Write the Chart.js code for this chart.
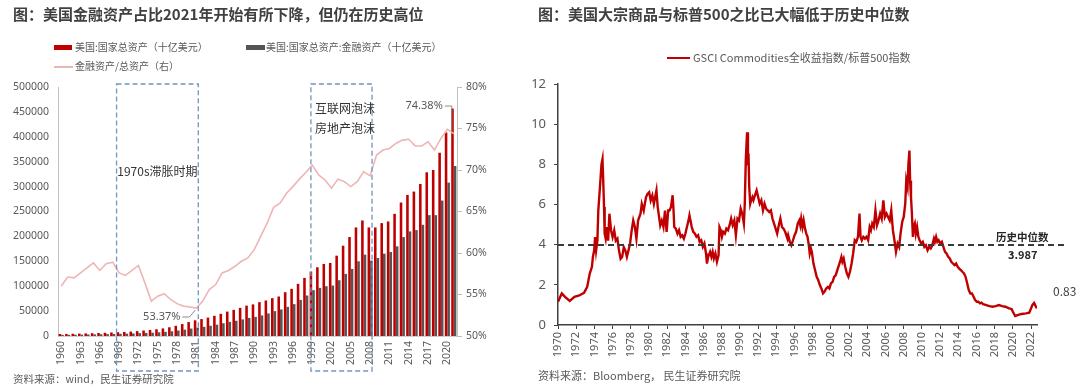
<!DOCTYPE html>
<html><head><meta charset="utf-8">
<script src="https://cdn.jsdelivr.net/npm/chart.js@4.4.1/dist/chart.umd.min.js"></script>
<style>
html,body{margin:0;padding:0;background:#fff;}
body{width:1080px;height:385px;position:relative;overflow:hidden;font-family:"Noto Sans CJK SC","Noto Sans",sans-serif;}
.abs{position:absolute;white-space:nowrap;line-height:1;}
.title{font-weight:bold;font-size:15px;color:#404040;}
.leg{font-size:10px;color:#595959;}
.src{font-size:10.5px;color:#595959;}
canvas{position:absolute;top:0;}
</style></head>
<body>
<canvas id="c1" width="530" height="385" style="left:0;width:530px;height:385px"></canvas>
<canvas id="c2" width="550" height="385" style="left:530px;width:550px;height:385px"></canvas>

<div class="abs title" style="left:13px;top:6px">图：美国金融资产占比2021年开始有所下降，但仍在历史高位</div>
<div class="abs" style="left:54px;top:45px;width:18px;height:5px;background:#C00000"></div>
<div class="abs leg" style="left:75px;top:42px">美国:国家总资产（十亿美元）</div>
<div class="abs" style="left:246px;top:45px;width:19px;height:5px;background:#555555"></div>
<div class="abs leg" style="left:266px;top:42px">美国:国家总资产:金融资产（十亿美元）</div>
<div class="abs" style="left:54px;top:66px;width:19px;height:1.5px;background:#EFB5B5"></div>
<div class="abs leg" style="left:75px;top:61px">金融资产/总资产（右）</div>
<div class="abs src" style="left:13px;top:374px">资料来源：wind，民生证券研究院</div>

<div class="abs title" style="left:538px;top:6px">图：美国大宗商品与标普500之比已大幅低于历史中位数</div>
<div class="abs" style="left:667px;top:57px;width:23px;height:2px;background:#C00000"></div>
<div class="abs" style="left:693px;top:52px;font-size:11px;color:#595959">GSCI Commodities全收益指数/标普500指数</div>
<div class="abs src" style="left:538px;top:370px;font-size:11px">资料来源：Bloomberg， 民生证券研究院</div>
<div class="abs" style="left:996px;top:232px;font-size:10.5px;font-weight:bold;color:#262626">历史中位数</div>
<div class="abs" style="left:1008px;top:249px;font-size:11px;font-weight:bold;color:#262626">3.987</div>
<div class="abs" style="left:1053px;top:285px;font-size:12px;color:#404040">0.83</div>

<script>
// ---------- Left chart data ----------
const yearLabels = ['1960','1961','1962','1963','1964','1965','1966','1967','1968','1969',
 '1970','1971','1972','1973','1974','1975','1976','1977','1978','1979',
 '1980','1981','1982','1983','1984','1985','1986','1987','1988','1989',
 '1990','1991','1992','1993','1994','1995','1996','1997','1998','1999',
 '2000','2001','2002','2003','2004','2005','2006','2007','2008','2009',
 '2010','2011','2012','2013','2014','2015','2016','2017','2018','2019',
 '2020','2021'];
const totalAssets = [4000,4200,4500,4800,5200,5600,6000,6500,7100,7700,
 8200,8900,9800,11000,12200,13500,15200,17500,20500,24000,
 28000,31500,34000,37000,40500,44500,49000,52500,56500,61000,
 63500,68000,71300,76000,79300,88000,94700,104700,116700,129300,
 138000,144700,146700,161300,181300,198700,218000,232000,218000,218000,
 226700,230000,245300,268000,283300,290000,305300,328700,333300,368000,
 408700,456700];
const financialAssets = [2240,2400,2570,2760,3030,3290,3470,3820,4180,4440,
 4700,5150,5730,6200,6610,7400,8380,9520,11050,12860,
 14980,16810,18430,20570,22760,25630,28370,30660,33340,36230,
 38350,41330,45330,50000,53330,58500,64000,72500,81330,92000,
 96670,100000,101330,112000,124670,134670,150000,163330,151330,156670,
 165330,168670,180000,198670,210000,212670,223330,242670,242670,272000,
 308000,341330];
const financialRatio = [56.0,57.1,57.0,57.6,58.2,58.8,57.9,58.7,58.9,57.6,
 57.3,57.9,58.5,56.4,54.2,54.8,55.1,54.4,53.9,53.6,
 53.5,53.37,54.2,55.6,56.2,57.6,57.9,58.4,59.0,59.4,
 60.4,62.0,63.6,65.5,66.0,67.2,68.0,68.9,69.7,70.6,
 69.4,68.8,67.8,68.9,68.6,68.0,68.6,69.8,69.3,71.8,
 72.4,72.6,73.2,73.6,73.7,72.9,72.9,73.4,72.4,73.8,
 74.9,74.38];
const leftTicks = [0,50000,100000,150000,200000,250000,300000,350000,400000,450000,500000];
const rightTicks = [50,55,60,65,70,75,80];

// ---------- Right chart data ----------
const gsciYears = [
 1970.00,1970.42,1970.77,1971.29,1971.81,1972.34,1972.86,1973.21,1973.49,1973.73,1973.84,1973.98,
 1974.08,1974.19,1974.33,1974.43,1974.61,1974.78,1974.89,1974.96,1975.06,1975.13,1975.24,1975.38,
 1975.51,1975.65,1975.83,1976.00,1976.18,1976.35,1976.53,1976.70,1976.88,1977.05,1977.23,1977.40,
 1977.57,1977.75,1977.92,1978.10,1978.27,1978.45,1978.62,1978.80,1979.07,1979.21,1979.42,1979.67,
 1979.84,1980.02,1980.19,1980.37,1980.54,1980.82,1980.96,1981.24,1981.41,1981.59,1981.76,1981.94,
 1982.11,1982.25,1982.42,1982.60,1982.70,1982.78,1982.95,1983.13,1983.30,1983.48,1983.65,1983.83,
 1984.00,1984.17,1984.35,1984.45,1984.56,1984.70,1984.87,1985.05,1985.22,1985.40,1985.57,1985.75,
 1985.92,1986.09,1986.27,1986.37,1986.51,1986.72,1986.86,1987.00,1987.13,1987.30,1987.47,1987.65,
 1987.75,1987.89,1988.02,1988.16,1988.34,1988.51,1988.69,1988.86,1989.03,1989.20,1989.38,1989.55,
 1989.73,1989.90,1990.08,1990.25,1990.43,1990.53,1990.64,1990.78,1990.88,1990.95,1991.02,1991.13,
 1991.23,1991.37,1991.48,1991.65,1991.83,1992.00,1992.17,1992.35,1992.53,1992.70,1992.88,1993.05,
 1993.22,1993.40,1993.57,1993.75,1993.92,1994.09,1994.27,1994.44,1994.62,1994.79,1994.97,1995.22,
 1995.30,1995.48,1995.65,1995.83,1996.00,1996.17,1996.35,1996.52,1996.63,1996.73,1996.87,1997.00,
 1997.15,1997.29,1997.43,1997.57,1997.67,1997.80,1997.90,1998.08,1998.26,1998.43,1998.60,1998.78,
 1998.95,1999.13,1999.30,1999.48,1999.66,1999.83,2000.00,2000.18,2000.35,2000.53,2000.70,2000.88,
 2001.05,2001.15,2001.26,2001.40,2001.57,2001.75,2001.92,2002.09,2002.27,2002.44,2002.62,2002.79,
 2002.97,2003.14,2003.25,2003.39,2003.56,2003.74,2003.91,2004.09,2004.26,2004.40,2004.54,2004.71,
 2004.89,2005.06,2005.23,2005.41,2005.58,2005.76,2005.93,2006.11,2006.28,2006.46,2006.63,2006.81,
 2006.98,2007.15,2007.33,2007.50,2007.65,2007.83,2008.00,2008.17,2008.28,2008.42,2008.52,2008.63,
 2008.70,2008.80,2008.90,2009.01,2009.10,2009.22,2009.33,2009.47,2009.61,2009.75,2009.92,2010.10,
 2010.27,2010.44,2010.62,2010.80,2010.97,2011.14,2011.32,2011.42,2011.56,2011.70,2011.84,2012.01,
 2012.19,2012.36,2012.54,2012.71,2012.89,2013.06,2013.23,2013.41,2013.58,2013.76,2013.93,2014.10,
 2014.28,2014.45,2014.63,2014.80,2014.98,2015.15,2015.33,2015.50,2015.68,2015.85,2016.03,2016.20,
 2016.38,2016.55,2016.73,2017.08,2017.42,2017.77,2018.10,2018.47,2018.82,2019.17,2019.52,2019.87,
 2020.00,2020.25,2020.60,2020.95,2021.45,2021.80,2022.00,2022.15,2022.33,2022.50,2022.65];
const gsciValues = [
 1.16,1.57,1.40,1.20,1.40,1.47,1.60,1.90,2.56,2.90,3.40,3.72,
 4.38,3.72,4.20,5.70,6.86,8.00,8.26,7.35,5.87,4.55,4.30,4.88,
 4.20,5.54,4.71,4.38,4.71,4.20,4.30,3.72,3.30,3.39,3.88,3.72,
 3.39,3.72,4.05,4.71,5.20,4.88,4.30,5.20,5.54,6.03,5.70,6.36,
 6.53,6.61,6.20,6.45,6.03,6.70,5.87,4.96,5.20,4.88,5.70,4.63,
 5.70,5.70,5.88,6.46,5.70,4.88,4.80,4.55,4.72,4.39,4.47,4.30,
 4.55,4.88,5.21,5.46,5.21,4.88,4.64,4.55,4.39,4.47,4.14,4.22,
 3.89,4.06,3.56,3.06,3.40,3.64,3.40,3.64,3.31,3.56,3.15,3.48,
 4.88,4.72,4.39,4.64,4.55,4.80,4.72,4.97,5.30,4.97,5.21,4.47,
 5.30,5.21,5.79,5.55,5.05,6.04,8.20,9.60,8.20,8.28,6.87,6.04,
 6.21,6.37,6.21,6.46,6.70,6.37,6.04,6.21,5.71,6.04,5.79,5.71,
 5.63,5.71,5.30,5.05,4.80,4.55,4.97,5.30,4.88,4.80,4.64,4.30,
 4.47,4.14,3.97,4.22,4.47,4.64,5.05,5.21,4.97,5.30,4.88,5.21,
 4.80,4.55,4.39,3.97,3.56,3.81,3.64,3.06,2.73,2.40,2.24,1.99,
 1.82,1.57,1.66,1.82,1.90,1.82,2.07,2.15,2.40,2.48,2.73,2.98,
 3.23,3.39,3.15,3.31,2.90,2.57,2.40,2.65,3.06,3.56,4.22,4.14,
 4.39,5.55,4.39,4.22,4.39,4.30,4.39,4.22,4.88,4.72,5.05,4.88,
 5.71,4.97,5.21,5.55,5.30,6.21,5.38,5.55,5.38,5.21,5.71,4.72,
 4.22,3.64,4.06,3.89,4.55,5.13,5.38,6.04,7.20,6.87,8.03,8.69,
 7.20,6.37,5.55,4.39,4.88,5.05,4.55,4.88,4.39,4.22,4.06,4.14,
 3.89,3.97,3.72,3.89,3.81,3.97,4.30,4.14,4.39,4.14,4.22,4.06,
 4.14,3.89,3.64,3.56,3.39,3.31,3.15,3.06,2.98,3.06,2.90,2.81,
 2.73,2.65,2.57,2.40,2.07,1.74,1.57,1.57,1.41,1.24,1.16,1.16,
 1.08,1.11,1.04,0.99,0.94,0.91,0.94,0.99,0.94,0.91,0.84,0.79,
 0.66,0.45,0.50,0.55,0.58,0.61,0.83,1.00,1.10,0.94,0.83];
const medianValue = 3.987;
const medianSpan = [1970, 2025.9];

Chart.defaults.font.family = '"Noto Sans","Noto Sans CJK SC",sans-serif';
Chart.defaults.animation = false;

// annotation plugin for left chart
const leftAnno = {
  id:'leftAnno',
  afterDatasetsDraw(chart){
    const ctx = chart.ctx, x = chart.scales.x, y1 = chart.scales.y1;
    ctx.save();
    ctx.strokeStyle = '#7196C2'; ctx.lineWidth = 1.3; ctx.setLineDash([5,3]);
    const boxes = [[8.6,21.3],[38.8,48.3]];
    boxes.forEach(b=>{
      const l = x.getPixelForValue(b[0]), r = x.getPixelForValue(b[1]);
      ctx.strokeRect(l, 84, r-l, 287);
    });
    ctx.setLineDash([]);
    ctx.fillStyle = '#333'; ctx.font = '12px "Noto Sans CJK SC"';
    ctx.textBaseline = 'middle'; ctx.textAlign = 'center';
    const c1 = (x.getPixelForValue(8.6)+x.getPixelForValue(21.3))/2;
    ctx.fillText('1970s滞胀时期', c1, 171);
    ctx.textAlign = 'left';
    const l2 = x.getPixelForValue(38.8);
    ctx.fillText('互联网泡沫', l2+4, 108);
    ctx.fillText('房地产泡沫', l2+4, 128);
    // 53.37% label
    const px1 = x.getPixelForValue(21), py1 = y1.getPixelForValue(financialRatio[21]);
    ctx.strokeStyle = '#8c8c8c'; ctx.lineWidth = 1;
    ctx.beginPath(); ctx.moveTo(px1-14, py1+9); ctx.lineTo(px1-7, py1+9); ctx.lineTo(px1-1, py1+2); ctx.stroke();
    ctx.fillStyle = '#595959'; ctx.font = '11px "Noto Sans"'; ctx.textAlign='right';
    ctx.fillText(financialRatio[21].toFixed(2)+'%', px1-16, py1+9);
    // 74.38% label
    const px2 = x.getPixelForValue(61), py2 = y1.getPixelForValue(financialRatio[61]);
    ctx.beginPath(); ctx.moveTo(px2-9, 106); ctx.lineTo(px2-2, 106); ctx.lineTo(px2-2, py2-2); ctx.stroke();
    ctx.fillText(financialRatio[61].toFixed(2)+'%', px2-11, 106);
    ctx.restore();
  }
};

new Chart(document.getElementById('c1'), {
  type:'bar',
  data:{
    labels: yearLabels,
    datasets:[
      {type:'bar', label:'美国:国家总资产（十亿美元）', data: totalAssets, backgroundColor:'#C00000', yAxisID:'y', order:2, categoryPercentage:0.8, barPercentage:1.0},
      {type:'bar', label:'美国:国家总资产:金融资产（十亿美元）', data: financialAssets, backgroundColor:'#555555', yAxisID:'y', order:2, categoryPercentage:0.8, barPercentage:1.0},
      {type:'line', label:'金融资产/总资产（右）', data: financialRatio, borderColor:'#EFB5B5', borderWidth:1.6, pointRadius:0, yAxisID:'y1', order:1, tension:0}
    ]
  },
  options:{
    responsive:false, devicePixelRatio:1,
    layout:{padding:{top:87,left:0,right:0,bottom:0}},
    plugins:{legend:{display:false}, tooltip:{enabled:false}},
    scales:{
      x:{type:'category', offset:true,
         grid:{display:false, drawTicks:false},
         border:{display:true, color:'#d0d0d0'},
         ticks:{autoSkip:false, minRotation:90, maxRotation:90, padding:5, color:'#595959', font:{size:10.5},
                callback:(v,i)=> i%3===0 ? yearLabels[i] : ''},
         afterFit:(s)=>{s.height = 49;}},
      y:{position:'left', min:0, max:500000,
         afterBuildTicks:(s)=>{s.ticks = leftTicks.map(v=>({value:v}));},
         grid:{display:false, drawTicks:false},
         border:{display:true, color:'#bfbfbf'},
         ticks:{padding:9, color:'#595959', font:{size:10.5}, callback:v=>String(v)},
         afterFit:(s)=>{s.width = 58;}},
      y1:{position:'right', min:50, max:80,
         afterBuildTicks:(s)=>{s.ticks = rightTicks.map(v=>({value:v}));},
         grid:{display:true, drawOnChartArea:false, drawTicks:true, tickLength:5, color:'#bfbfbf'},
         border:{display:true, color:'#bfbfbf'},
         ticks:{padding:4, color:'#595959', font:{size:10.5}, callback:v=>v+'%'},
         afterFit:(s)=>{s.width = 73;}}
    }
  },
  plugins:[leftAnno]
});

new Chart(document.getElementById('c2'), {
  type:'line',
  data:{
    datasets:[
      {label:'历史中位数', data: medianSpan.map(v=>({x:v, y:medianValue})), borderColor:'#3a3a3a', borderWidth:2, borderDash:[6,4], pointRadius:0, clip:false},
      {label:'GSCI Commodities全收益指数/标普500指数', data: gsciYears.map((v,i)=>({x:v, y:gsciValues[i]})), borderColor:'#C00000', borderWidth:2.4, pointRadius:0, tension:0}
    ]
  },
  options:{
    responsive:false, devicePixelRatio:1,
    layout:{padding:{top:84,left:0,right:43,bottom:0}},
    plugins:{legend:{display:false}, tooltip:{enabled:false}},
    scales:{
      x:{type:'linear', min:1970, max:2022.65,
         grid:{display:true, drawOnChartArea:false, drawTicks:true, tickLength:4, color:'#404040'},
         border:{display:true, color:'#404040', width:1.5},
         ticks:{stepSize:2, includeBounds:false, autoSkip:false, minRotation:90, maxRotation:90, padding:3, color:'#595959', font:{size:11},
                callback:v=>String(v)},
         afterFit:(s)=>{s.height = 60;}},
      y:{min:0, max:12,
         grid:{display:true, drawOnChartArea:false, drawTicks:true, tickLength:4, color:'#404040'},
         border:{display:true, color:'#404040', width:1.5},
         ticks:{stepSize:2, padding:8, color:'#595959', font:{size:13}},
         afterFit:(s)=>{s.width = 28;}}
    }
  }
});
</script>
</body></html>
